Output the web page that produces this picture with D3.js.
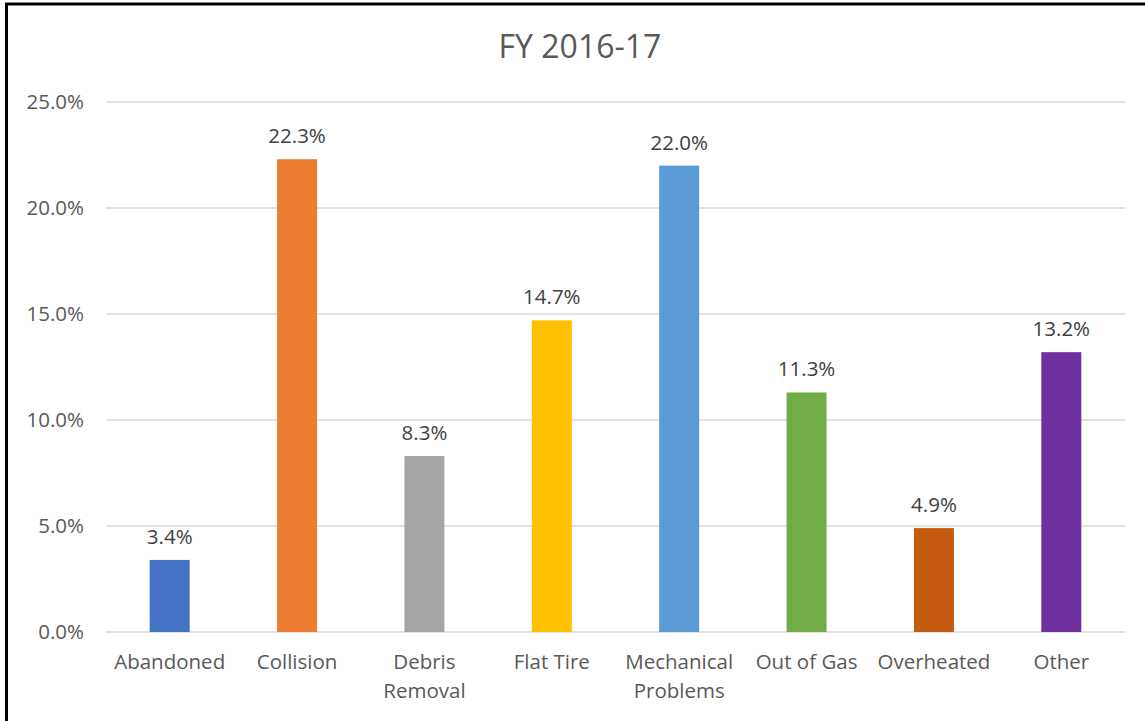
<!DOCTYPE html>
<html>
<head>
<meta charset="utf-8">
<script src="https://cdn.jsdelivr.net/npm/d3@7"></script>
<style>
  body { margin: 0; background: #fff; }
  svg { display: block; font-family: "Open Sans", sans-serif; }
</style>
</head>
<body>
<div id="chart"></div>
<script>
// Data
const categories = ["Abandoned", "Collision", "Debris Removal", "Flat Tire", "Mechanical Problems", "Out of Gas", "Overheated", "Other"];
const labelLines = [["Abandoned"], ["Collision"], ["Debris", "Removal"], ["Flat Tire"], ["Mechanical", "Problems"], ["Out of Gas"], ["Overheated"], ["Other"]];
const values = [3.4, 22.3, 8.3, 14.7, 22.0, 11.3, 4.9, 13.2];
const barColors = ["#4472C4", "#ED7D31", "#A5A5A5", "#FFC000", "#5B9BD5", "#70AD47", "#C55A11", "#7030A0"];
const yTicks = [0, 5, 10, 15, 20, 25];

const W = 1145, H = 721;
const margin = { top: 102, right: 20, bottom: 89, left: 106 };
const width = W - margin.left - margin.right;
const height = H - margin.top - margin.bottom;
const fontSize = "20.5px";

const svg = d3.select("#chart").append("svg")
    .attr("width", W)
    .attr("height", H);

// Frame (only left and top edges fall inside the picture)
svg.append("line").attr("x1", 6.5).attr("x2", 6.5).attr("y1", 3).attr("y2", H)
    .attr("stroke", "#000").attr("stroke-width", 3);
svg.append("line").attr("x1", 5).attr("x2", W).attr("y1", 4).attr("y2", 4)
    .attr("stroke", "#000").attr("stroke-width", 3);

// Title
svg.append("text")
    .attr("x", 580)
    .attr("y", 58)
    .attr("text-anchor", "middle")
    .style("font-size", "32px")
    .style("fill", "#595959")
    .text("FY 2016-17");

const g = svg.append("g").attr("transform", `translate(${margin.left},${margin.top})`);

const x = d3.scaleBand().domain(categories).range([0, width]).paddingInner(0.686).paddingOuter(0.343);
const y = d3.scaleLinear().domain([0, 25]).range([height, 0]);

// Gridlines
g.append("g")
    .selectAll("line")
    .data(yTicks)
    .enter().append("line")
    .attr("x1", 0).attr("x2", width)
    .attr("y1", d => y(d)).attr("y2", d => y(d))
    .attr("stroke", "#D9D9D9")
    .attr("stroke-width", 1.5);

// Y axis
const yAxis = g.append("g")
    .call(d3.axisLeft(y).tickValues(yTicks).tickFormat(d => d.toFixed(1) + "%").tickSize(0).tickPadding(22));
yAxis.select(".domain").remove();
yAxis.selectAll("text").style("font-size", fontSize).style("fill", "#595959").style("font-family", "'Open Sans', sans-serif");

// Bars
g.selectAll(".bar")
    .data(values)
    .enter().append("rect")
    .attr("class", "bar")
    .attr("x", (d, i) => x(categories[i]))
    .attr("y", d => y(d))
    .attr("width", x.bandwidth())
    .attr("height", d => height - y(d))
    .attr("fill", (d, i) => barColors[i]);

// Value labels
g.selectAll(".val")
    .data(values)
    .enter().append("text")
    .attr("class", "val")
    .attr("x", (d, i) => x(categories[i]) + x.bandwidth() / 2)
    .attr("y", d => y(d) - 16)
    .attr("text-anchor", "middle")
    .style("font-size", fontSize)
    .style("fill", "#404040")
    .text(d => d.toFixed(1) + "%");

// X axis labels
const xl = g.append("g").attr("transform", `translate(0,${height})`);
xl.selectAll("text")
    .data(labelLines)
    .enter().append("text")
    .attr("x", (d, i) => x(categories[i]) + x.bandwidth() / 2)
    .attr("y", 37)
    .attr("text-anchor", "middle")
    .style("font-size", fontSize)
    .style("fill", "#595959")
    .each(function (lines) {
        const t = d3.select(this);
        lines.forEach((l, j) => {
            t.append("tspan")
                .attr("x", t.attr("x"))
                .attr("dy", j === 0 ? 0 : 29)
                .text(l);
        });
    });
</script>
</body>
</html>
